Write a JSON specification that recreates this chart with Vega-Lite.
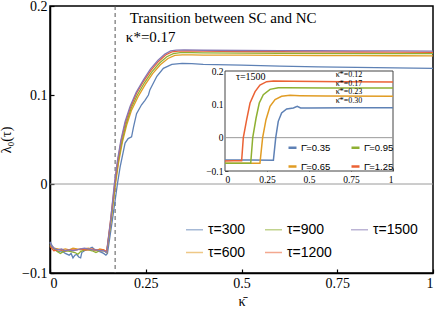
{
  "$schema": "https://vega.github.io/schema/vega-lite/v6.json",
  "width": 383,
  "height": 267,
  "autosize": "none",
  "padding": {"left": 50, "top": 6, "right": 3, "bottom": 37},
  "background": "white",
  "config": {
    "view": {"stroke": "black", "strokeWidth": 1.5},
    "axis": {"grid": false, "labelFont": "Liberation Serif", "titleFont": "Liberation Serif", "labelColor": "black", "titleColor": "black", "domainColor": "black", "tickColor": "black", "titleFontWeight": "normal"},
    "legend": {"labelFont": "Liberation Sans", "labelColor": "black"}
  },
  "datasets": {
    "main": [
      {"s":"τ=300","x":0,"y":-0.065},{"s":"τ=300","x":0.005,"y":-0.069},{"s":"τ=300","x":0.01,"y":-0.072},{"s":"τ=300","x":0.02,"y":-0.076},{"s":"τ=300","x":0.03,"y":-0.075},{"s":"τ=300","x":0.04,"y":-0.078},{"s":"τ=300","x":0.05,"y":-0.08},{"s":"τ=300","x":0.055,"y":-0.078},{"s":"τ=300","x":0.06,"y":-0.083},{"s":"τ=300","x":0.065,"y":-0.08},{"s":"τ=300","x":0.07,"y":-0.079},{"s":"τ=300","x":0.075,"y":-0.082},{"s":"τ=300","x":0.08,"y":-0.083},{"s":"τ=300","x":0.083,"y":-0.077},{"s":"τ=300","x":0.09,"y":-0.075},{"s":"τ=300","x":0.1,"y":-0.073},{"s":"τ=300","x":0.11,"y":-0.071},{"s":"τ=300","x":0.115,"y":-0.073},{"s":"τ=300","x":0.12,"y":-0.074},{"s":"τ=300","x":0.13,"y":-0.076},{"s":"τ=300","x":0.14,"y":-0.078},{"s":"τ=300","x":0.146,"y":-0.08},{"s":"τ=300","x":0.15,"y":-0.078},{"s":"τ=300","x":0.163,"y":-0.04},{"s":"τ=300","x":0.176,"y":0},{"s":"τ=300","x":0.183,"y":0.019},{"s":"τ=300","x":0.196,"y":0.046},{"s":"τ=300","x":0.204,"y":0.051},{"s":"τ=300","x":0.213,"y":0.053},{"s":"τ=300","x":0.218,"y":0.064},{"s":"τ=300","x":0.226,"y":0.079},{"s":"τ=300","x":0.239,"y":0.089},{"s":"τ=300","x":0.248,"y":0.094},{"s":"τ=300","x":0.257,"y":0.1},{"s":"τ=300","x":0.261,"y":0.106},{"s":"τ=300","x":0.279,"y":0.121},{"s":"τ=300","x":0.296,"y":0.13},{"s":"τ=300","x":0.318,"y":0.1345},{"s":"τ=300","x":0.345,"y":0.1356},{"s":"τ=300","x":0.37,"y":0.1352},{"s":"τ=300","x":0.4,"y":0.1345},{"s":"τ=300","x":0.5,"y":0.1335},{"s":"τ=300","x":0.6,"y":0.1325},{"s":"τ=300","x":0.7,"y":0.1315},{"s":"τ=300","x":0.8,"y":0.131},{"s":"τ=300","x":0.9,"y":0.1305},{"s":"τ=300","x":1,"y":0.13},

      {"s":"τ=600","x":0,"y":-0.069},{"s":"τ=600","x":0.01,"y":-0.072},{"s":"τ=600","x":0.02,"y":-0.073},{"s":"τ=600","x":0.03,"y":-0.074},{"s":"τ=600","x":0.04,"y":-0.073},{"s":"τ=600","x":0.05,"y":-0.074},{"s":"τ=600","x":0.06,"y":-0.072},{"s":"τ=600","x":0.07,"y":-0.073},{"s":"τ=600","x":0.08,"y":-0.074},{"s":"τ=600","x":0.09,"y":-0.073},{"s":"τ=600","x":0.1,"y":-0.072},{"s":"τ=600","x":0.11,"y":-0.074},{"s":"τ=600","x":0.12,"y":-0.075},{"s":"τ=600","x":0.13,"y":-0.073},{"s":"τ=600","x":0.14,"y":-0.074},{"s":"τ=600","x":0.148,"y":-0.077},{"s":"τ=600","x":0.16,"y":-0.04},{"s":"τ=600","x":0.171,"y":0},{"s":"τ=600","x":0.179,"y":0.024},{"s":"τ=600","x":0.189,"y":0.047},{"s":"τ=600","x":0.2,"y":0.066},{"s":"τ=600","x":0.213,"y":0.083},{"s":"τ=600","x":0.23,"y":0.098},{"s":"τ=600","x":0.249,"y":0.112},{"s":"τ=600","x":0.268,"y":0.124},{"s":"τ=600","x":0.288,"y":0.134},{"s":"τ=600","x":0.308,"y":0.141},{"s":"τ=600","x":0.326,"y":0.1445},{"s":"τ=600","x":0.345,"y":0.145},{"s":"τ=600","x":0.37,"y":0.1451},{"s":"τ=600","x":0.4,"y":0.1449},{"s":"τ=600","x":0.5,"y":0.1447},{"s":"τ=600","x":0.6,"y":0.1446},{"s":"τ=600","x":0.7,"y":0.1444},{"s":"τ=600","x":0.8,"y":0.1443},{"s":"τ=600","x":0.9,"y":0.1441},{"s":"τ=600","x":1,"y":0.144},

      {"s":"τ=900","x":0,"y":-0.068},{"s":"τ=900","x":0.01,"y":-0.073},{"s":"τ=900","x":0.02,"y":-0.076},{"s":"τ=900","x":0.027,"y":-0.078},{"s":"τ=900","x":0.035,"y":-0.076},{"s":"τ=900","x":0.045,"y":-0.075},{"s":"τ=900","x":0.055,"y":-0.076},{"s":"τ=900","x":0.065,"y":-0.077},{"s":"τ=900","x":0.073,"y":-0.079},{"s":"τ=900","x":0.08,"y":-0.076},{"s":"τ=900","x":0.09,"y":-0.074},{"s":"τ=900","x":0.1,"y":-0.074},{"s":"τ=900","x":0.11,"y":-0.075},{"s":"τ=900","x":0.12,"y":-0.077},{"s":"τ=900","x":0.13,"y":-0.075},{"s":"τ=900","x":0.14,"y":-0.075},{"s":"τ=900","x":0.148,"y":-0.077},{"s":"τ=900","x":0.159,"y":-0.041},{"s":"τ=900","x":0.17,"y":0},{"s":"τ=900","x":0.178,"y":0.025},{"s":"τ=900","x":0.188,"y":0.048},{"s":"τ=900","x":0.199,"y":0.068},{"s":"τ=900","x":0.212,"y":0.085},{"s":"τ=900","x":0.228,"y":0.1},{"s":"τ=900","x":0.247,"y":0.114},{"s":"τ=900","x":0.266,"y":0.126},{"s":"τ=900","x":0.286,"y":0.136},{"s":"τ=900","x":0.305,"y":0.143},{"s":"τ=900","x":0.322,"y":0.1465},{"s":"τ=900","x":0.34,"y":0.1475},{"s":"τ=900","x":0.37,"y":0.1476},{"s":"τ=900","x":0.4,"y":0.1474},{"s":"τ=900","x":0.5,"y":0.1471},{"s":"τ=900","x":0.6,"y":0.1469},{"s":"τ=900","x":0.7,"y":0.1468},{"s":"τ=900","x":0.8,"y":0.1466},{"s":"τ=900","x":0.9,"y":0.1465},{"s":"τ=900","x":1,"y":0.1464},

      {"s":"τ=1200","x":0,"y":-0.07},{"s":"τ=1200","x":0.01,"y":-0.075},{"s":"τ=1200","x":0.02,"y":-0.074},{"s":"τ=1200","x":0.03,"y":-0.074},{"s":"τ=1200","x":0.04,"y":-0.075},{"s":"τ=1200","x":0.05,"y":-0.074},{"s":"τ=1200","x":0.06,"y":-0.074},{"s":"τ=1200","x":0.07,"y":-0.074},{"s":"τ=1200","x":0.08,"y":-0.073},{"s":"τ=1200","x":0.09,"y":-0.074},{"s":"τ=1200","x":0.1,"y":-0.074},{"s":"τ=1200","x":0.11,"y":-0.073},{"s":"τ=1200","x":0.12,"y":-0.074},{"s":"τ=1200","x":0.13,"y":-0.074},{"s":"τ=1200","x":0.14,"y":-0.074},{"s":"τ=1200","x":0.148,"y":-0.076},{"s":"τ=1200","x":0.158,"y":-0.041},{"s":"τ=1200","x":0.169,"y":0},{"s":"τ=1200","x":0.177,"y":0.026},{"s":"τ=1200","x":0.186,"y":0.049},{"s":"τ=1200","x":0.197,"y":0.069},{"s":"τ=1200","x":0.21,"y":0.086},{"s":"τ=1200","x":0.226,"y":0.102},{"s":"τ=1200","x":0.245,"y":0.116},{"s":"τ=1200","x":0.264,"y":0.128},{"s":"τ=1200","x":0.284,"y":0.138},{"s":"τ=1200","x":0.302,"y":0.145},{"s":"τ=1200","x":0.318,"y":0.1485},{"s":"τ=1200","x":0.335,"y":0.1494},{"s":"τ=1200","x":0.36,"y":0.1495},{"s":"τ=1200","x":0.4,"y":0.1492},{"s":"τ=1200","x":0.5,"y":0.1489},{"s":"τ=1200","x":0.6,"y":0.1487},{"s":"τ=1200","x":0.7,"y":0.1485},{"s":"τ=1200","x":0.8,"y":0.1483},{"s":"τ=1200","x":0.9,"y":0.1482},{"s":"τ=1200","x":1,"y":0.148},

      {"s":"τ=1500","x":0,"y":-0.066},{"s":"τ=1500","x":0.005,"y":-0.07},{"s":"τ=1500","x":0.01,"y":-0.072},{"s":"τ=1500","x":0.02,"y":-0.074},{"s":"τ=1500","x":0.03,"y":-0.073},{"s":"τ=1500","x":0.04,"y":-0.075},{"s":"τ=1500","x":0.05,"y":-0.074},{"s":"τ=1500","x":0.06,"y":-0.075},{"s":"τ=1500","x":0.07,"y":-0.074},{"s":"τ=1500","x":0.08,"y":-0.073},{"s":"τ=1500","x":0.09,"y":-0.072},{"s":"τ=1500","x":0.1,"y":-0.073},{"s":"τ=1500","x":0.11,"y":-0.074},{"s":"τ=1500","x":0.12,"y":-0.074},{"s":"τ=1500","x":0.13,"y":-0.075},{"s":"τ=1500","x":0.14,"y":-0.075},{"s":"τ=1500","x":0.148,"y":-0.077},{"s":"τ=1500","x":0.158,"y":-0.042},{"s":"τ=1500","x":0.168,"y":0},{"s":"τ=1500","x":0.176,"y":0.026},{"s":"τ=1500","x":0.185,"y":0.049},{"s":"τ=1500","x":0.196,"y":0.07},{"s":"τ=1500","x":0.209,"y":0.087},{"s":"τ=1500","x":0.225,"y":0.103},{"s":"τ=1500","x":0.244,"y":0.117},{"s":"τ=1500","x":0.262,"y":0.129},{"s":"τ=1500","x":0.282,"y":0.139},{"s":"τ=1500","x":0.3,"y":0.146},{"s":"τ=1500","x":0.315,"y":0.1495},{"s":"τ=1500","x":0.33,"y":0.1505},{"s":"τ=1500","x":0.35,"y":0.1507},{"s":"τ=1500","x":0.4,"y":0.1503},{"s":"τ=1500","x":0.5,"y":0.15},{"s":"τ=1500","x":0.6,"y":0.1498},{"s":"τ=1500","x":0.7,"y":0.1497},{"s":"τ=1500","x":0.8,"y":0.1496},{"s":"τ=1500","x":0.9,"y":0.1495},{"s":"τ=1500","x":1,"y":0.1494}
    ],
    "inset": [
      {"s":"Γ̄=0.35","x":0,"y":-0.067},{"s":"Γ̄=0.35","x":0.15,"y":-0.067},{"s":"Γ̄=0.35","x":0.288,"y":-0.068},{"s":"Γ̄=0.35","x":0.302,"y":0},{"s":"Γ̄=0.35","x":0.317,"y":0.049},{"s":"Γ̄=0.35","x":0.337,"y":0.074},{"s":"Γ̄=0.35","x":0.367,"y":0.086},{"s":"Γ̄=0.35","x":0.407,"y":0.089},{"s":"Γ̄=0.35","x":0.43,"y":0.094},{"s":"Γ̄=0.35","x":0.45,"y":0.089},{"s":"Γ̄=0.35","x":0.5,"y":0.089},{"s":"Γ̄=0.35","x":0.75,"y":0.0895},{"s":"Γ̄=0.35","x":1,"y":0.09},
      {"s":"Γ̄=0.65","x":0,"y":-0.077},{"s":"Γ̄=0.65","x":0.1,"y":-0.077},{"s":"Γ̄=0.65","x":0.208,"y":-0.077},{"s":"Γ̄=0.65","x":0.224,"y":0},{"s":"Γ̄=0.65","x":0.244,"y":0.054},{"s":"Γ̄=0.65","x":0.268,"y":0.094},{"s":"Γ̄=0.65","x":0.298,"y":0.114},{"s":"Γ̄=0.65","x":0.337,"y":0.124},{"s":"Γ̄=0.65","x":0.387,"y":0.127},{"s":"Γ̄=0.65","x":0.446,"y":0.126},{"s":"Γ̄=0.65","x":0.6,"y":0.125},{"s":"Γ̄=0.65","x":1,"y":0.124},
      {"s":"Γ̄=0.95","x":0,"y":-0.077},{"s":"Γ̄=0.95","x":0.08,"y":-0.077},{"s":"Γ̄=0.95","x":0.153,"y":-0.077},{"s":"Γ̄=0.95","x":0.165,"y":0},{"s":"Γ̄=0.95","x":0.185,"y":0.059},{"s":"Γ̄=0.95","x":0.204,"y":0.104},{"s":"Γ̄=0.95","x":0.228,"y":0.129},{"s":"Γ̄=0.95","x":0.268,"y":0.145},{"s":"Γ̄=0.95","x":0.317,"y":0.15},{"s":"Γ̄=0.95","x":0.367,"y":0.1495},{"s":"Γ̄=0.95","x":0.6,"y":0.149},{"s":"Γ̄=0.95","x":1,"y":0.149},
      {"s":"Γ̄=1.25","x":0,"y":-0.07},{"s":"Γ̄=1.25","x":0.05,"y":-0.0695},{"s":"Γ̄=1.25","x":0.099,"y":-0.0695},{"s":"Γ̄=1.25","x":0.109,"y":0},{"s":"Γ̄=1.25","x":0.129,"y":0.054},{"s":"Γ̄=1.25","x":0.149,"y":0.104},{"s":"Γ̄=1.25","x":0.179,"y":0.138},{"s":"Γ̄=1.25","x":0.208,"y":0.158},{"s":"Γ̄=1.25","x":0.248,"y":0.168},{"s":"Γ̄=1.25","x":0.288,"y":0.17},{"s":"Γ̄=1.25","x":0.4,"y":0.169},{"s":"Γ̄=1.25","x":0.7,"y":0.168},{"s":"Γ̄=1.25","x":1,"y":0.167}
    ],
    "notesMain": [
      {"x":0.208,"y":0.1865,"t":"Transition between SC and NC"},
      {"x":0.198,"y":0.165,"t":"κ*=0.17"}
    ],
    "notesInset": [
      {"x":0.738,"y":0.187,"t":"κ̄*=0.12"},
      {"x":0.738,"y":0.162,"t":"κ̄*=0.17"},
      {"x":0.738,"y":0.136,"t":"κ̄*=0.23"},
      {"x":0.738,"y":0.11,"t":"κ̄*=0.30"}
    ],
    "tauInset": [
      {"x":0.065,"y":0.182,"t":"τ=1500"}
    ]
  },
  "layer": [
    {
      "layer": [
        {
          "data": {"values": [{}]},
          "mark": {"type": "rule", "color": "#9a9a9a", "strokeWidth": 1},
          "encoding": {
            "y": {"datum": 0, "type": "quantitative", "scale": {"domain": [-0.1, 0.2], "nice": false, "zero": false},
              "axis": {"orient": "left", "values": [-0.1, 0, 0.1, 0.2], "format": ".1~f", "title": "λ₀(τ)", "labelFontSize": 14, "titleFontSize": 14, "tickSize": -4, "labelPadding": 7, "domainWidth": 1.5, "tickWidth": 1.2, "titlePadding": 8}
            }
          }
        },
        {
          "data": {"values": [{}]},
          "mark": {"type": "rule", "color": "#555555", "strokeWidth": 1, "strokeDash": [4, 3]},
          "encoding": {
            "x": {"datum": 0.17, "type": "quantitative", "scale": {"domain": [0, 1], "nice": false, "zero": false},
              "axis": {"orient": "bottom", "values": [0, 0.25, 0.5, 0.75, 1], "format": ".2~f", "title": "κ̄", "labelFontSize": 14, "titleFontSize": 14, "tickSize": -4, "labelPadding": 7, "domainWidth": 1.5, "tickWidth": 1.2, "titlePadding": 4}
            }
          }
        },
        {
          "data": {"name": "main"},
          "mark": {"type": "line", "strokeWidth": 1.3},
          "encoding": {
            "x": {"field": "x", "type": "quantitative"},
            "y": {"field": "y", "type": "quantitative"},
            "color": {"field": "s", "type": "nominal",
              "scale": {"domain": ["τ=300", "τ=600", "τ=900", "τ=1200", "τ=1500"], "range": ["#5E81B5", "#E19C24", "#8FB032", "#EB6235", "#8778B3"]},
              "legend": {"orient": "none", "legendX": 135, "legendY": 214, "title": null, "columns": 3, "symbolType": "stroke", "symbolSize": 289, "symbolStrokeWidth": 1.5, "symbolOpacity": 0.55, "labelFontSize": 14, "labelOffset": 4, "columnPadding": 16, "rowPadding": 6, "padding": 0}
            }
          }
        },
        {
          "data": {"name": "notesMain"},
          "mark": {"type": "text", "align": "left", "baseline": "middle", "font": "Liberation Serif", "fontSize": 15, "color": "black"},
          "encoding": {
            "x": {"field": "x", "type": "quantitative"},
            "y": {"field": "y", "type": "quantitative"},
            "text": {"field": "t"}
          }
        }
      ]
    },
    {
      "layer": [
        {
          "data": {"values": [{}]},
          "mark": {"type": "rect", "fill": "white", "stroke": "#444444", "strokeWidth": 1},
          "encoding": {
            "x": {"datum": 0, "type": "quantitative", "scale": {"domain": [0, 1], "range": [175, 343], "nice": false, "zero": false},
              "axis": {"orient": "bottom", "offset": -102, "values": [0, 0.25, 0.5, 0.75, 1], "format": ".2~f", "title": null, "domain": false, "labelFontSize": 9.5, "tickSize": -3, "labelPadding": 6, "tickColor": "#444444"}
            },
            "x2": {"datum": 1},
            "y": {"datum": -0.1, "type": "quantitative", "scale": {"domain": [-0.1, 0.2], "range": [165, 65], "nice": false, "zero": false},
              "axis": {"orient": "left", "offset": -175, "values": [-0.1, 0, 0.1, 0.2], "format": ".1~f", "title": null, "domain": false, "labelFontSize": 9.5, "tickSize": -3, "labelPadding": 5, "tickColor": "#444444"}
            },
            "y2": {"datum": 0.2}
          }
        },
        {
          "data": {"values": [{}]},
          "mark": {"type": "rule", "color": "#9a9a9a", "strokeWidth": 1},
          "encoding": {
            "x": {"datum": 0, "type": "quantitative"},
            "x2": {"datum": 1},
            "y": {"datum": 0, "type": "quantitative"}
          }
        },
        {
          "data": {"name": "inset"},
          "mark": {"type": "line", "strokeWidth": 1.5},
          "encoding": {
            "x": {"field": "x", "type": "quantitative"},
            "y": {"field": "y", "type": "quantitative"},
            "color": {"field": "s", "type": "nominal",
              "scale": {"domain": ["Γ̄=0.35", "Γ̄=0.65", "Γ̄=0.95", "Γ̄=1.25"], "range": ["#5E81B5", "#E19C24", "#8FB032", "#EB6235"]},
              "legend": {"orient": "none", "legendX": 237, "legendY": 136, "title": null, "columns": 2, "symbolType": "stroke", "symbolSize": 64, "symbolStrokeWidth": 2.5, "labelFontSize": 9.5, "labelOffset": 3, "columnPadding": 15, "rowPadding": 8, "padding": 0}
            }
          }
        },
        {
          "data": {"name": "notesInset"},
          "mark": {"type": "text", "align": "center", "baseline": "middle", "font": "Liberation Serif", "fontSize": 8, "color": "black"},
          "encoding": {
            "x": {"field": "x", "type": "quantitative"},
            "y": {"field": "y", "type": "quantitative"},
            "text": {"field": "t"}
          }
        },
        {
          "data": {"name": "tauInset"},
          "mark": {"type": "text", "align": "left", "baseline": "middle", "font": "Liberation Serif", "fontSize": 10, "color": "black"},
          "encoding": {
            "x": {"field": "x", "type": "quantitative"},
            "y": {"field": "y", "type": "quantitative"},
            "text": {"field": "t"}
          }
        }
      ]
    }
  ],
  "resolve": {"scale": {"x": "independent", "y": "independent", "color": "independent"}}
}
